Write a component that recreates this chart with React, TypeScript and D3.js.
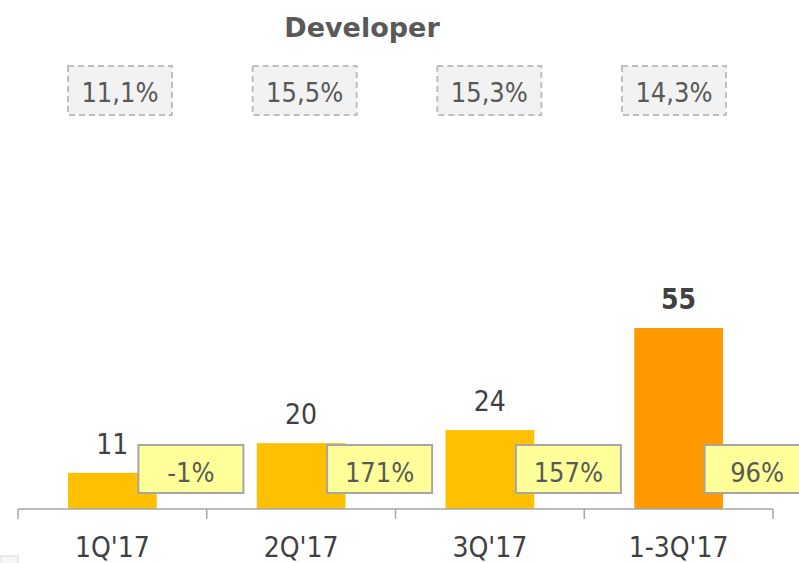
import { useEffect, useRef } from 'react'
import * as d3 from 'd3'

const categories = ['1Q\'17', '2Q\'17', '3Q\'17', '1-3Q\'17']
const values = [11, 20, 24, 55]
const growth = ['-1%', '171%', '157%', '96%']
const margins = ['11,1%', '15,5%', '15,3%', '14,3%']
const barColors = ['#FFC000', '#FFC000', '#FFC000', '#FF9900']

const FONT = "Tahoma, 'DejaVu Sans Condensed', 'DejaVu Sans', sans-serif"

const App = () => {
  const svgRef = useRef<SVGSVGElement>(null)

  useEffect(() => {
    const width = 799
    const height = 563
    const svg = d3.select(svgRef.current).attr('width', width).attr('height', height)
    svg.selectAll('*').remove()

    const axisY = 509
    const x = d3.scaleBand<string>().domain(categories).range([18, 773]).padding(0)
    const y = d3.scaleLinear().domain([0, 55]).range([axisY, 328])
    const bw = x.bandwidth()
    const barW = bw * 0.47
    const cx = (c: string) => (x(c) as number) + bw / 2

    // title
    svg
      .append('text')
      .attr('x', 362)
      .attr('y', 37)
      .attr('text-anchor', 'middle')
      .attr('font-family', "Tahoma, 'DejaVu Sans', sans-serif")
      .attr('font-weight', 'bold')
      .attr('font-size', 27)
      .attr('fill', '#595959')
      .text('Developer')

    // margin boxes
    const mx = d3.scalePoint<string>().domain(categories).range([120, 674])
    const mg = svg.append('g')
    mg.selectAll('rect')
      .data(categories)
      .join('rect')
      .attr('x', (d) => (mx(d) as number) - 52)
      .attr('y', 66)
      .attr('width', 104)
      .attr('height', 49)
      .attr('fill', '#F2F2F2')
      .attr('stroke', '#BFBFBF')
      .attr('stroke-width', 2)
      .attr('stroke-dasharray', '6,4')
    mg.selectAll('text')
      .data(categories)
      .join('text')
      .attr('x', (d) => mx(d) as number)
      .attr('y', 102)
      .attr('text-anchor', 'middle')
      .attr('font-family', FONT)
      .attr('font-size', 27)
      .attr('fill', '#595959')
      .text((_, i) => margins[i])

    // bars
    svg
      .append('g')
      .selectAll('rect')
      .data(categories)
      .join('rect')
      .attr('x', (d) => cx(d) - barW / 2)
      .attr('y', (_, i) => y(values[i]))
      .attr('width', barW)
      .attr('height', (_, i) => axisY - y(values[i]))
      .attr('fill', (_, i) => barColors[i])

    // value labels
    svg
      .append('g')
      .selectAll('text')
      .data(categories)
      .join('text')
      .attr('x', (d) => cx(d))
      .attr('y', (_, i) => y(values[i]) - 19)
      .attr('text-anchor', 'middle')
      .attr('font-family', FONT)
      .attr('font-size', 28)
      .attr('font-weight', (_, i) => (i === categories.length - 1 ? 'bold' : 'normal'))
      .attr('fill', '#404040')
      .text((_, i) => values[i])

    // axis line and ticks
    const ag = svg.append('g').attr('stroke', '#A6A6A6').attr('stroke-width', 1.5)
    ag.append('line').attr('x1', 18).attr('x2', 773).attr('y1', axisY).attr('y2', axisY)
    const tickXs = [...categories.map((c) => x(c) as number), 773]
    ag.selectAll('line.tick')
      .data(tickXs)
      .join('line')
      .attr('class', 'tick')
      .attr('x1', (d) => d)
      .attr('x2', (d) => d)
      .attr('y1', axisY)
      .attr('y2', axisY + 10)

    // growth boxes
    const gg = svg.append('g')
    gg.selectAll('rect')
      .data(categories)
      .join('rect')
      .attr('x', (d) => cx(d) + 26)
      .attr('y', 445)
      .attr('width', 105)
      .attr('height', 48)
      .attr('fill', '#FFFF99')
      .attr('stroke', '#A6A6A6')
      .attr('stroke-width', 2)
    gg.selectAll('text')
      .data(categories)
      .join('text')
      .attr('x', (d) => cx(d) + 26 + 52.5)
      .attr('y', 482)
      .attr('text-anchor', 'middle')
      .attr('font-family', FONT)
      .attr('font-size', 27)
      .attr('fill', '#595959')
      .text((_, i) => growth[i])

    // category labels
    svg
      .append('g')
      .selectAll('text')
      .data(categories)
      .join('text')
      .attr('x', (d) => cx(d))
      .attr('y', 557)
      .attr('text-anchor', 'middle')
      .attr('font-family', FONT)
      .attr('font-size', 28)
      .attr('fill', '#404040')
      .text((d) => d)

    // small cut-off element bottom left
    svg
      .append('rect')
      .attr('x', 1)
      .attr('y', 556)
      .attr('width', 17)
      .attr('height', 12)
      .attr('fill', '#F7F7F7')
      .attr('stroke', '#D9D9D9')
  }, [])

  return (
    <svg
      ref={svgRef}
      style={{ position: 'absolute', left: 0, top: 0, display: 'block', background: '#fff' }}
    ></svg>
  )
}

export default App
